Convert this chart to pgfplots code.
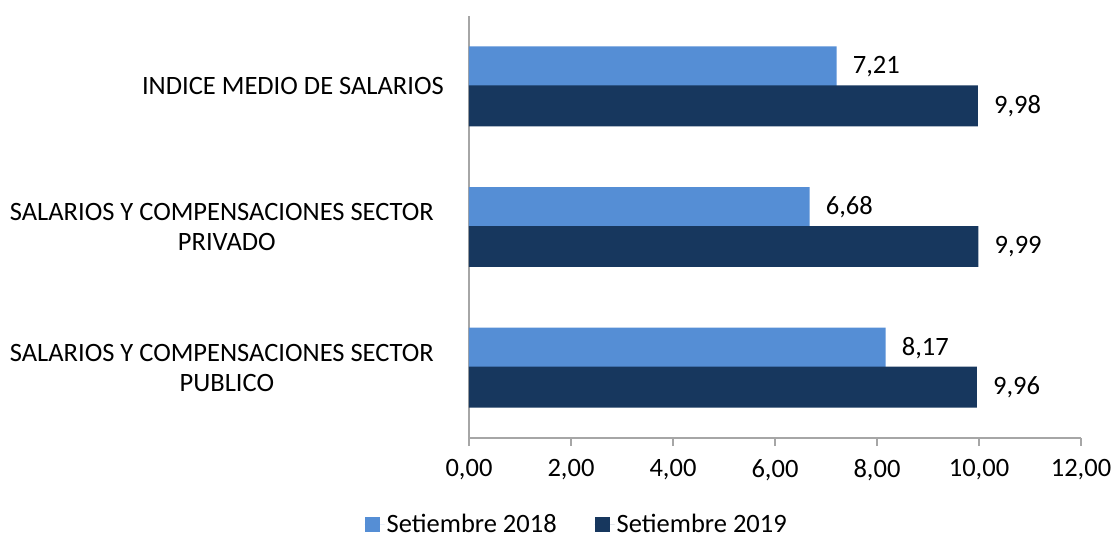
\documentclass[border=0pt]{standalone}
\usepackage{pgfplots}
\pgfplotsset{compat=1.18}
\usepackage{fontspec}
\setmainfont{Carlito}
\definecolor{c18}{HTML}{558ED5}
\definecolor{c19}{HTML}{17375E}
\definecolor{axgray}{HTML}{A6A6A6}
\begin{document}
\fontsize{26.5bp}{30bp}\selectfont
\begin{tikzpicture}
\begin{axis}[
  width=612bp, height=422bp, scale only axis,
  font=\fontsize{26.5bp}{30bp}\selectfont,
  xbar, bar width=0.2914,
  xmin=0, xmax=12, ymin=-0.5, ymax=2.5, y dir=reverse,
  axis x line*=bottom, axis y line*=left,
  axis line style={axgray, line width=1.2bp},
  xtick={0,2,...,12},
  xtick align=outside, major tick length=8bp,
  xtick style={axgray, line width=1.2bp},
  ytick={0,1,2}, ytick style={draw=none},
  yticklabels={{INDICE MEDIO DE SALARIOS},{SALARIOS Y COMPENSACIONES SECTOR\hspace*{10bp}\\PRIVADO},{SALARIOS Y COMPENSACIONES SECTOR\hspace*{10bp}\\PUBLICO}},
  yticklabel style={align=center, inner sep=0pt, anchor=east, xshift=-17bp},
  xticklabel style={inner sep=0pt, anchor=north, yshift=-13bp},
  /pgf/number format/.cd, fixed, fixed zerofill, precision=2, use comma, assume math mode=true,
  /pgfplots/.cd,
  nodes near coords,
  nodes near coords style={anchor=west, inner sep=0pt, xshift=16bp, text=black},
  legend columns=2,
  legend style={draw=none, at={(axis description cs:0.176,-0.206)}, anchor=center,
    /tikz/every even column/.append style={column sep=36bp}},
  legend image code/.code={\path (0bp,0bp) -- (20bp,0bp);\fill[#1, draw=none] (0bp,-7.5bp) rectangle (15bp,7.5bp);},
]
\addplot[fill=c18, draw=none] coordinates {(7.21,0) (6.68,1) (8.17,2)};
\addplot[fill=c19, draw=none] coordinates {(9.98,0) (9.99,1) (9.96,2)};
\legend{Setiembre 2018, Setiembre 2019}
\end{axis}
\pgfresetboundingbox
\path[use as bounding box] (-469bp,-102bp) rectangle (651bp,438bp);
\end{tikzpicture}
\end{document}
